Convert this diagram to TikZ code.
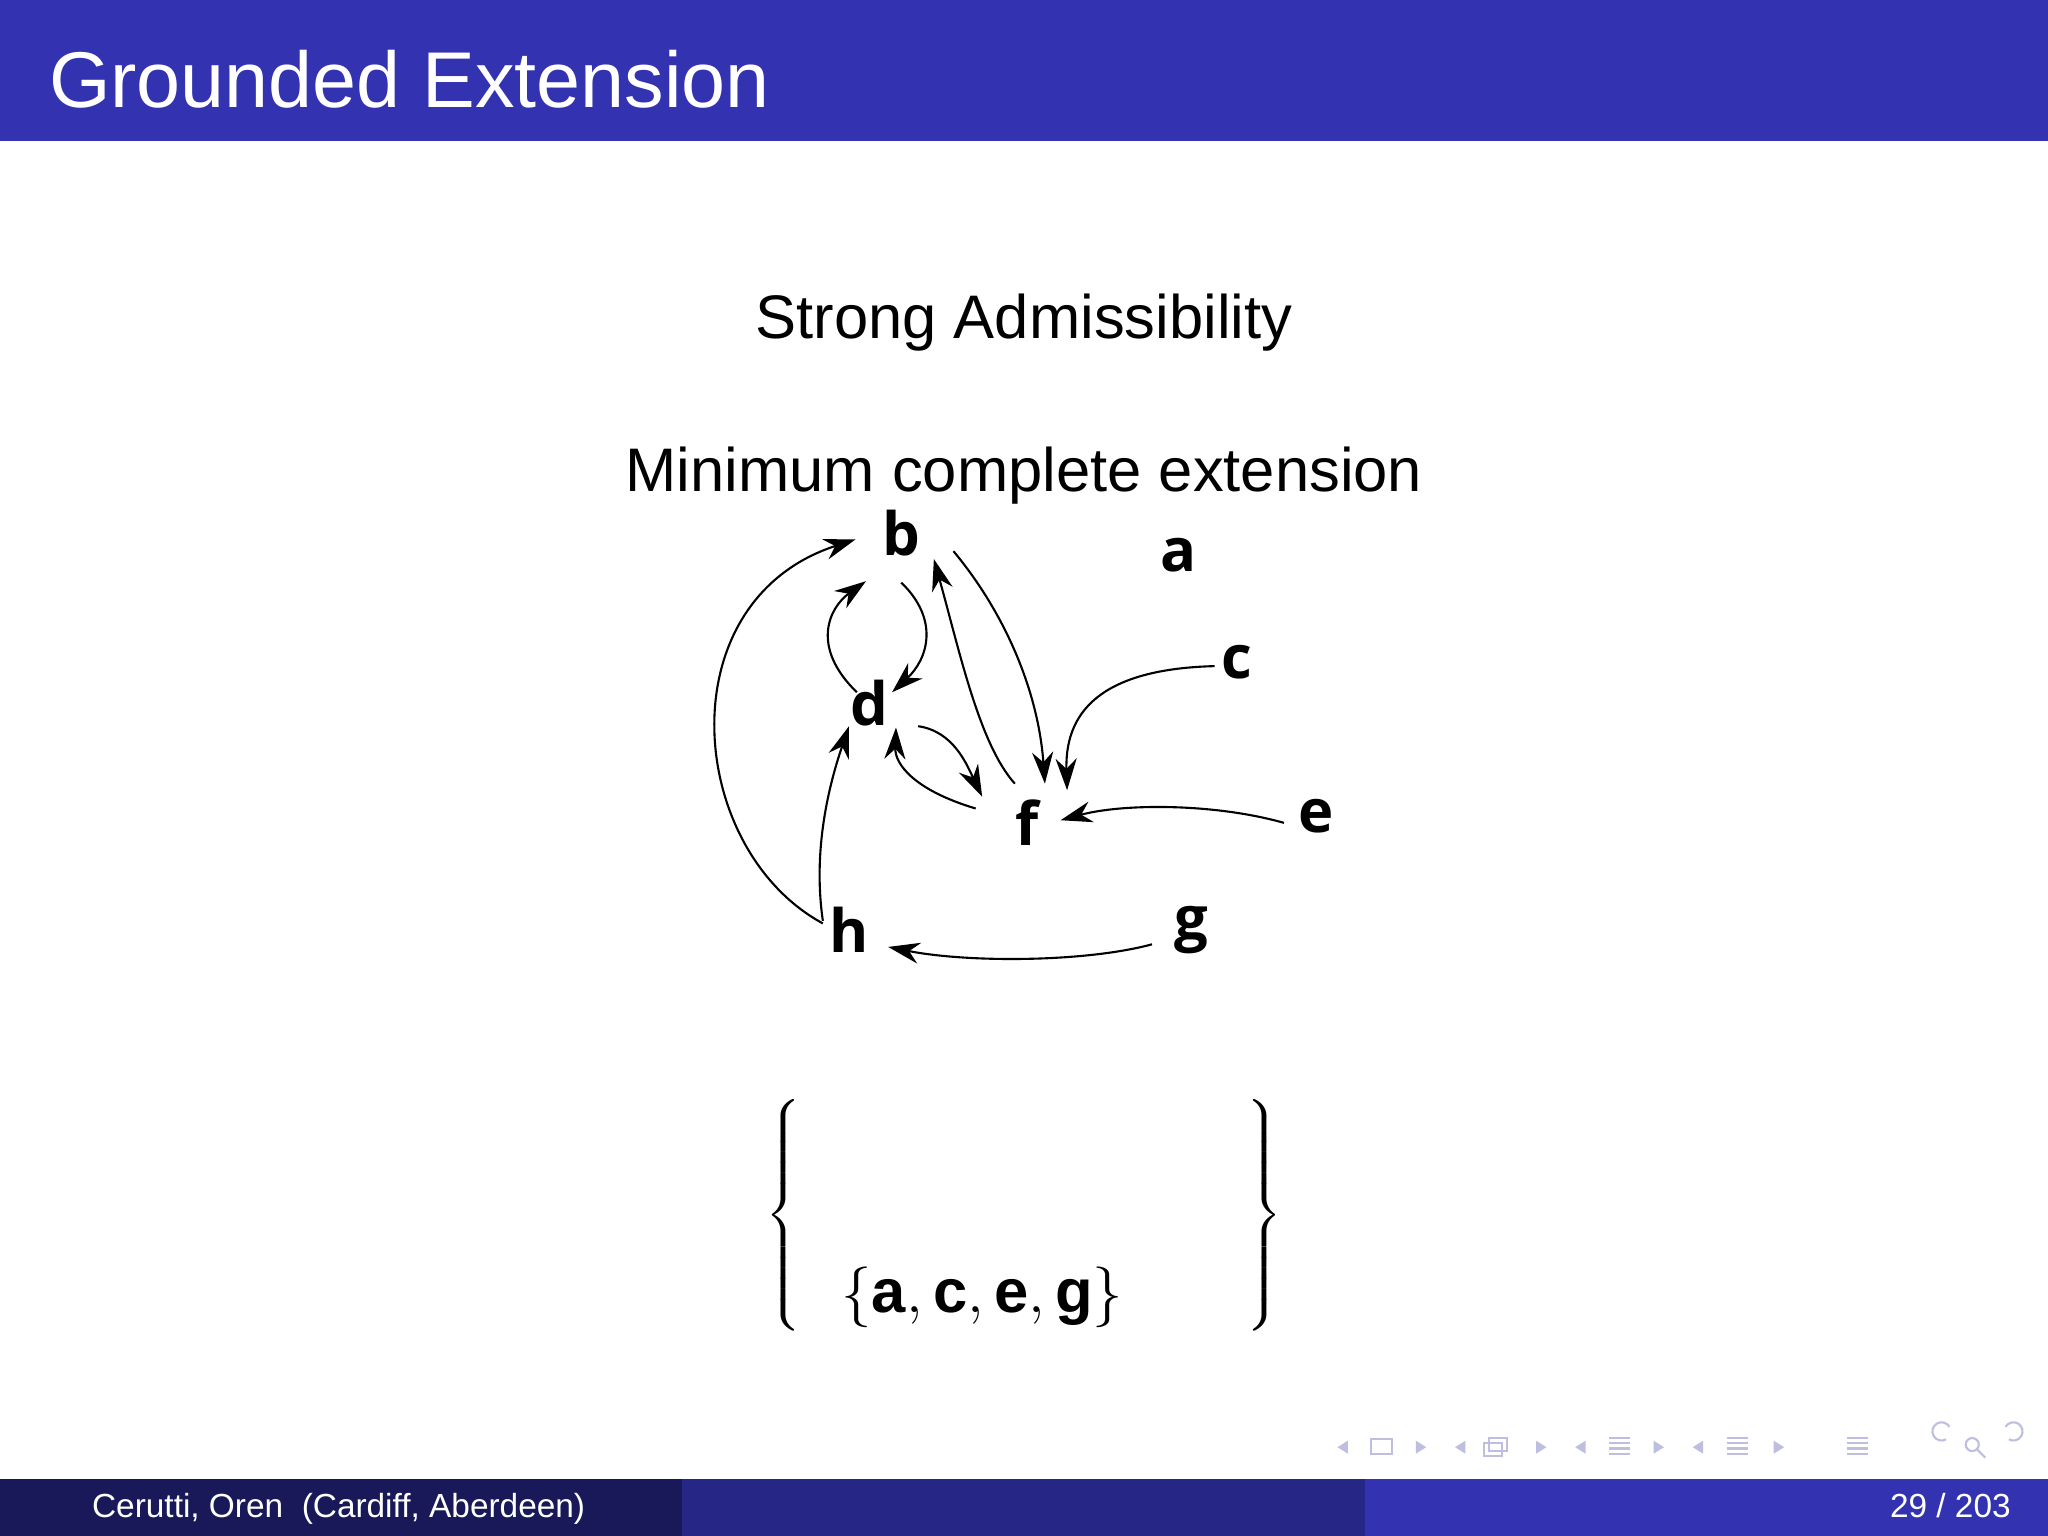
\documentclass[tikz,border=0pt]{standalone}
\usepackage{fontspec}
\setmainfont{Liberation Sans}
\newfontfamily\nodefont{Open Sans}
\usetikzlibrary{arrows.meta,calc}
\definecolor{barblue}{RGB}{51,51,178}
\definecolor{middark}{RGB}{38,38,134}
\definecolor{leftdark}{RGB}{25,25,89}
\definecolor{navc}{RGB}{190,190,225}
\begin{document}
\begin{tikzpicture}[x=0.013061cm,y=-0.013061cm,
  arg/.style={font=\nodefont\bfseries\fontsize{17}{20}\selectfont,inner sep=1pt},
  att/.style={-{Stealth[length=9pt,width=6pt]},line width=0.6pt},
  nav/.style={draw=navc,line width=0.6pt}]
\useasboundingbox (0,0) rectangle (1568,1176);
\fill[barblue] (0,0) rectangle (1568,108);
\node[anchor=base west,text=white,font=\fontsize{22.5}{26}\selectfont,inner sep=0] (title) at (37,82) {Grounded Extension};
\node[anchor=base,font=\fontsize{17.5}{21}\selectfont,inner sep=0] (t1) at (784,259) {Strong Admissibility};
\node[anchor=base,font=\fontsize{17.5}{21}\selectfont,inner sep=0] (t2) at (784,376) {Minimum complete extension};
% nodes
\node[arg] (b) at (690,408) {b};
\node[arg] (a) at (902,425) {a};
\node[arg] (c) at (947,507) {c};
\node[arg] (d) at (666,538) {d};
\node[arg] (f) at (786,630) {f};
\node[arg] (e) at (1008,625) {e};
\node[arg] (h) at (650,712) {h};
\node[arg] (g) at (912,712) {g};
% edges
\draw[att] ($(h)+(-20,-5)$) .. controls (525,650) and (510,460) .. ($(b)+(-35,5)$);
\draw[att] ($(h)+(-20,-7)$) .. controls (622,650) and (635,600) .. ($(d)+(-16,18)$);
\draw[att] ($(d)+(-10,-8)$) .. controls (620,495) and (635,465) .. ($(b)+(-27,37)$);
\draw[att] ($(b)+(0,38)$) .. controls (720,475) and (710,505) .. ($(d)+(17,-8)$);
\draw[att] ($(f)+(-9,-30)$) .. controls (750,570) and (735,500) .. ($(b)+(25,20)$);
\draw[att] ($(b)+(40,14)$) .. controls (770,470) and (795,530) .. ($(f)+(14,-30)$);
\draw[att] ($(c)+(-17,3)$) .. controls (850,512) and (815,540) .. ($(f)+(31,-25)$);
\draw[att] ($(e)+(-25,5)$) .. controls (930,615) and (860,615) .. ($(f)+(26,-2)$);
\draw[att] ($(g)+(-30,11)$) .. controls (830,737) and (740,737) .. ($(h)+(30,13)$);
\draw[att] ($(d)+(37,18)$) .. controls (730,560) and (740,585) .. ($(f)+(-34,-20)$);
\draw[att] ($(f)+(-39,-11)$) .. controls (700,605) and (685,585) .. ($(d)+(20,19)$);
% set
\node[inner sep=0] (lb) at (602,934) {\scalebox{1.15}[1]{$\left\{\rule[-33pt]{0pt}{66pt}\right.$}};
\node[inner sep=0] (rb) at (966,934) {\scalebox{1.15}[1]{$\left.\rule[-33pt]{0pt}{66pt}\right\}$}};
\node[anchor=base,inner sep=0,font=\fontsize{17.5}{21}\selectfont] (set) at (752,1005) {$\{$\textbf{a}$,$\,\textbf{c}$,$\,\textbf{e}$,$\,\textbf{g}$\}$};
% footer
\fill[leftdark] (0,1132) rectangle (522,1176);
\fill[middark] (522,1132) rectangle (1045,1176);
\fill[barblue] (1045,1132) rectangle (1568,1176);
\node[anchor=base west,text=white,font=\fontsize{9.5}{11}\selectfont,inner sep=0] (auth) at (70,1162) {Cerutti, Oren\ \ (Cardiff, Aberdeen)};
\node[anchor=base east,text=white,font=\fontsize{9.5}{11}\selectfont,inner sep=0] (pg) at (1540,1162) {29 / 203};
% navigation symbols
\fill[navc] (1032,1103) -- (1024,1108) -- (1032,1113) -- cycle;
\draw[nav] (1050,1102) rectangle (1066,1113);
\fill[navc] (1084,1103) -- (1092,1108) -- (1084,1113) -- cycle;
\fill[navc] (1122,1103) -- (1114,1108) -- (1122,1113) -- cycle;
\draw[nav] (1136,1105) rectangle (1150,1115); \draw[nav] (1140,1101) rectangle (1154,1111);
\fill[navc] (1176,1103) -- (1184,1108) -- (1176,1113) -- cycle;
\fill[navc] (1214,1103) -- (1206,1108) -- (1214,1113) -- cycle;
\foreach \yy in {1101,1105,1109,1113} \draw[nav] (1232,\yy) -- (1248,\yy);
\fill[navc] (1266,1103) -- (1274,1108) -- (1266,1113) -- cycle;
\fill[navc] (1304,1103) -- (1296,1108) -- (1304,1113) -- cycle;
\foreach \yy in {1101,1105,1109,1113} \draw[nav] (1322,\yy) -- (1338,\yy);
\fill[navc] (1358,1103) -- (1366,1108) -- (1358,1113) -- cycle;
\foreach \yy in {1101,1105,1109,1113} \draw[nav] (1414,\yy) -- (1430,\yy);
\draw[nav] (1490,1102) arc (60:330:7);
\draw[nav] (1510,1106) circle (5); \draw[nav] (1514,1110) -- (1520,1116);
\draw[nav] (1538,1102) arc (120:-150:7);
\end{tikzpicture}
\end{document}
